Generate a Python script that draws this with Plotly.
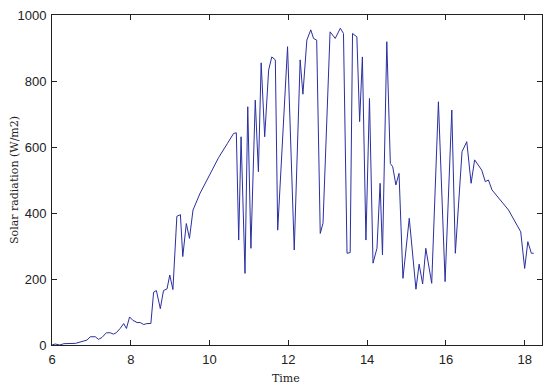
import plotly.graph_objects as go

time_h = [6.00, 6.08, 6.20, 6.30, 6.60, 6.72, 6.89, 6.97, 7.10, 7.18, 7.27, 7.38, 7.48, 7.56, 7.63,
          7.73, 7.82, 7.89, 7.97, 8.05, 8.16, 8.24, 8.33, 8.41, 8.51, 8.58, 8.65, 8.75, 8.83, 8.92,
          8.99, 9.07, 9.13, 9.17, 9.26, 9.32, 9.41, 9.49, 9.58, 9.76, 10.00, 10.23, 10.45, 10.61, 10.68,
          10.74, 10.80, 10.90, 10.97, 11.05, 11.16, 11.24, 11.31, 11.40, 11.50, 11.58, 11.67, 11.73, 11.98,
          12.15, 12.30, 12.37, 12.47, 12.57, 12.64, 12.72, 12.81, 12.88, 13.06, 13.19, 13.32, 13.40, 13.49,
          13.57, 13.63, 13.74, 13.81, 13.88, 13.97, 14.06, 14.15, 14.25, 14.33, 14.39, 14.50, 14.59, 14.65,
          14.73, 14.81, 14.91, 15.07, 15.24, 15.32, 15.41, 15.49, 15.64, 15.81, 15.98, 16.15, 16.24, 16.41,
          16.53, 16.64, 16.73, 16.91, 17.00, 17.08, 17.17, 17.59, 17.90, 18.00, 18.08, 18.17, 18.23]
radiation = [0, 3, 0, 4, 5, 10, 15, 25, 25, 17, 23, 37, 37, 33, 37,
             50, 65, 50, 85, 75, 68, 68, 62, 65, 65, 160, 165, 110, 165, 170,
             212, 168, 308, 390, 395, 268, 368, 323, 409, 460, 515, 568, 610, 641, 643,
             318, 631, 217, 722, 293, 742, 525, 855, 631, 833, 873, 864, 348, 904,
             288, 864, 760, 924, 955, 929, 924, 338, 369, 949, 929, 960, 944, 278,
             280, 944, 934, 677, 873, 318, 747, 248, 293, 490, 273, 919, 550, 540,
             485, 520, 202, 384, 169, 245, 185, 293, 187, 737, 192, 712, 278, 586,
             616, 490, 561, 530, 495, 500, 470, 409, 343, 232, 313, 278, 278]

x_ticks = [6, 8, 10, 12, 14, 16, 18]
y_ticks = [0, 200, 400, 600, 800, 1000]

fig = go.Figure()
fig.add_trace(go.Scatter(x=time_h, y=radiation, mode="lines",
                         line=dict(color="#2a2fa0", width=1), showlegend=False))

tickfont = dict(family="Liberation Sans Narrow, Arial Narrow, Liberation Sans, Arial", size=13, color="#222")
axis_common = dict(showline=True, linecolor="#222", linewidth=1, mirror="ticks",
                   ticks="inside", ticklen=5, tickcolor="#222", showgrid=False,
                   zeroline=False, tickfont=tickfont, automargin=False)

fig.update_layout(
    width=550, height=392,
    margin=dict(l=52, r=8, t=15, b=47, autoexpand=False),
    paper_bgcolor="white", plot_bgcolor="white",
    xaxis=dict(range=[6, 18.44], tickvals=x_ticks, ticklabelstandoff=2, **axis_common),
    yaxis=dict(range=[0, 1000], tickvals=y_ticks, ticklabelstandoff=2, **axis_common),
    annotations=[
        dict(text="Time", xref="paper", yref="paper", x=0.477, y=0, yanchor="middle",
             yshift=-33, showarrow=False,
             font=dict(family="DejaVu Serif, Liberation Serif, serif", size=11, color="#222")),
        dict(text="Solar radiation (W/m2)", xref="paper", yref="paper", x=0, y=0.5,
             xanchor="center", yanchor="middle", xshift=-38, textangle=-90, showarrow=False,
             font=dict(family="DejaVu Serif, Liberation Serif, serif", size=11, color="#222")),
    ],
)

fig.write_html("out.html", config={"displayModeBar": False},
               post_script="document.body.style.margin='0';document.body.style.overflow='hidden';")
